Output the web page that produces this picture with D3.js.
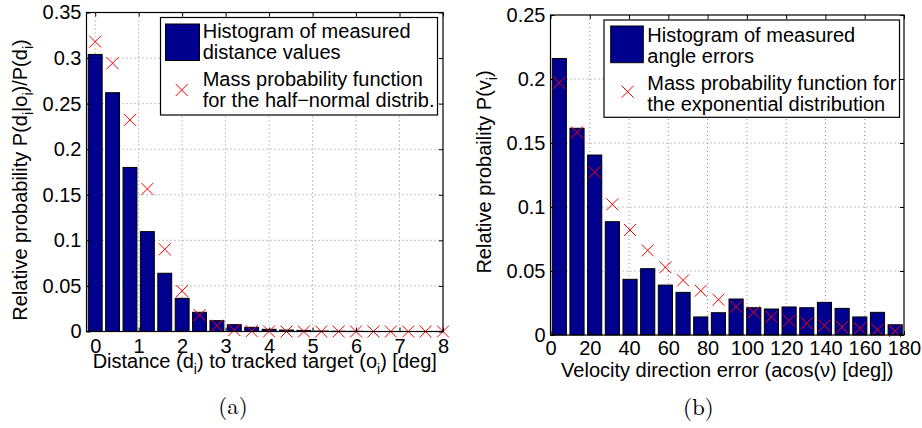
<!DOCTYPE html>
<html>
<head>
<meta charset="utf-8">
<script src="https://cdn.jsdelivr.net/npm/d3@7"></script>
<style>
  html, body { margin: 0; padding: 0; background: #fff; }
  svg { display: block; }
</style>
</head>
<body>
<svg id="fig" width="922" height="428"></svg>
<script>
// ---- (a) distance to tracked target: histogram + half-normal pmf ----
const distCenters = [0, 0.4, 0.8, 1.2, 1.6, 2.0, 2.4, 2.8, 3.2, 3.6, 4.0, 4.4, 4.8, 5.2, 5.6, 6.0, 6.4, 6.8, 7.2, 7.6, 8.0];
const distHist    = [0.304, 0.262, 0.180, 0.1096, 0.0639, 0.0364, 0.0211, 0.0119, 0.0075, 0.0046, 0.0024, 0.0016, 0.0012, 0.0005, 0.0003, 0.0002, 0, 0, 0, 0, 0];
const halfNormPmf = [0.318, 0.2944, 0.2322, 0.1564, 0.0902, 0.0445, 0.0181, 0.0064, 0.0016, 0.0004, 0.0001, 0, 0, 0, 0, 0, 0, 0, 0, 0, 0];
const distXTicks  = [0, 1, 2, 3, 4, 5, 6, 7, 8];
const distYTicks  = [0, 0.05, 0.1, 0.15, 0.2, 0.25, 0.3, 0.35];

// ---- (b) velocity direction error: histogram + exponential pmf ----
const angleCenters = [4.5, 13.5, 22.5, 31.5, 40.5, 49.5, 58.5, 67.5, 76.5, 85.5, 94.5, 103.5, 112.5, 121.5, 130.5, 139.5, 148.5, 157.5, 166.5, 175.5];
const angleHist    = [0.216, 0.1615, 0.1406, 0.0885, 0.0435, 0.0518, 0.039, 0.0333, 0.0141, 0.0174, 0.0281, 0.0213, 0.0203, 0.0219, 0.0213, 0.0255, 0.0208, 0.0141, 0.0177, 0.008];
const expPmf       = [0.197, 0.1583, 0.1271, 0.1021, 0.082, 0.0661, 0.0529, 0.0427, 0.0346, 0.0276, 0.0221, 0.0177, 0.0141, 0.0112, 0.0091, 0.0073, 0.0062, 0.0052, 0.0041, 0.003];
const angleXTicks  = [0, 20, 40, 60, 80, 100, 120, 140, 160, 180];
const angleYTicks  = [0, 0.05, 0.1, 0.15, 0.2, 0.25];

const FONT = "'Liberation Sans', Arial, Helvetica, sans-serif";
const BAR_FILL = "#00008f";
const svg = d3.select("#fig");
svg.append("rect").attr("width", 922).attr("height", 428).attr("fill", "#fff");

// text with TeX-like subscripts: parts = [[string, isSub], ...]
function richText(sel, parts) {
  let prevSub = false;
  parts.forEach(([s, sub]) => {
    const t = sel.append("tspan").text(s);
    if (sub) { t.attr("font-size", 14).attr("dy", prevSub ? 0 : 6); }
    else if (prevSub) { t.attr("dy", -6); }
    prevSub = !!sub;
  });
}

function crossPath(cx, cy, r) {
  return `M${cx - r},${cy - r}L${cx + r},${cy + r}M${cx - r},${cy + r}L${cx + r},${cy - r}`;
}

function panel(cfg) {
  const p = cfg.plot;
  const x = d3.scaleLinear().domain(cfg.xDomain).range([p.left, p.right]);
  const y = d3.scaleLinear().domain(cfg.yDomain).range([p.bottom, p.top]);
  const g = svg.append("g");

  // dotted grid
  const grid = g.append("g").attr("stroke", "#8a8a8a").attr("stroke-width", 1)
    .attr("stroke-dasharray", "1,3").attr("fill", "none");
  cfg.xTicks.forEach(v => {
    const xv = x(v);
    if (xv > p.left + 1 && xv < p.right - 1)
      grid.append("line").attr("x1", xv).attr("x2", xv).attr("y1", p.top).attr("y2", p.bottom);
  });
  cfg.yTicks.forEach(v => {
    const yv = y(v);
    if (yv > p.top + 1 && yv < p.bottom - 1)
      grid.append("line").attr("x1", p.left).attr("x2", p.right).attr("y1", yv).attr("y2", yv);
  });

  // histogram bars (80% of bin width)
  const bw = x(cfg.binWidth * 0.8) - x(0);
  g.append("g").selectAll("rect").data(cfg.centers.map((c, i) => [c, cfg.hist[i]]))
    .join("rect")
    .attr("x", d => x(d[0]) - bw / 2)
    .attr("width", bw)
    .attr("y", d => y(d[1]))
    .attr("height", d => y(0) - y(d[1]))
    .attr("fill", BAR_FILL)
    .attr("stroke", "#000")
    .attr("stroke-width", 1);

  // pmf markers
  g.append("g").selectAll("path").data(cfg.centers.map((c, i) => [c, cfg.pmf[i]]))
    .join("path")
    .attr("d", d => crossPath(x(d[0]), y(d[1]), 6))
    .attr("stroke", "#ff0000").attr("stroke-width", 1).attr("fill", "none");

  // axes: labelled bottom/left, inward ticks on all four sides
  const fmt = d3.format("~g");
  const axB = g.append("g").attr("transform", `translate(0,${p.bottom})`)
    .call(d3.axisBottom(x).tickValues(cfg.xTicks).tickFormat(fmt).tickSize(-4).tickPadding(cfg.xPad));
  const axL = g.append("g").attr("transform", `translate(${p.left},0)`)
    .call(d3.axisLeft(y).tickValues(cfg.yTicks).tickFormat(fmt).tickSize(-4).tickPadding(5));
  const axT = g.append("g").attr("transform", `translate(0,${p.top})`)
    .call(d3.axisTop(x).tickValues(cfg.xTicks).tickFormat("").tickSize(-4));
  const axR = g.append("g").attr("transform", `translate(${p.right},0)`)
    .call(d3.axisRight(y).tickValues(cfg.yTicks).tickFormat("").tickSize(-4));
  [axB, axL, axT, axR].forEach(a => {
    a.select(".domain").remove();
    a.selectAll("line").attr("stroke", "#000").attr("stroke-width", 1);
    a.selectAll("text").attr("font-family", FONT).attr("font-size", 20).attr("fill", "#000");
  });
  g.append("rect").attr("x", p.left).attr("y", p.top)
    .attr("width", p.right - p.left).attr("height", p.bottom - p.top)
    .attr("fill", "none").attr("stroke", "#000").attr("stroke-width", 1.2);

  // axis titles
  const xt = g.append("text").attr("x", (p.left + p.right) / 2).attr("y", cfg.xLabelY)
    .attr("text-anchor", "middle").attr("font-family", FONT).attr("font-size", 20);
  richText(xt, cfg.xLabel);
  const yt = g.append("text")
    .attr("transform", `translate(${cfg.yLabelX},${cfg.yLabelCY}) rotate(-90)`)
    .attr("text-anchor", "middle").attr("font-family", FONT).attr("font-size", 20);
  richText(yt, cfg.yLabel);

  // legend
  const L = cfg.legend;
  const lg = g.append("g");
  lg.append("rect").attr("x", L.x).attr("y", L.y).attr("width", L.w).attr("height", L.h)
    .attr("fill", "#fff").attr("stroke", "#000").attr("stroke-width", 1.2);
  lg.append("rect").attr("x", L.patch[0]).attr("y", L.patch[1])
    .attr("width", L.patch[2]).attr("height", L.patch[3])
    .attr("fill", BAR_FILL).attr("stroke", "#000").attr("stroke-width", 1);
  lg.append("path").attr("d", crossPath(L.cross[0], L.cross[1], 6))
    .attr("stroke", "#ff0000").attr("stroke-width", 1).attr("fill", "none");
  L.lines.forEach((s, i) => {
    lg.append("text").attr("x", L.textX).attr("y", L.baselines[i])
      .attr("font-family", FONT).attr("font-size", 20).attr("fill", "#000").text(s);
  });

  // panel caption
  svg.append("text").attr("x", cfg.caption[1]).attr("y", cfg.caption[2])
    .attr("text-anchor", "middle")
    .attr("font-family", "'Latin Modern Roman', 'CMU Serif', 'Liberation Serif', 'DejaVu Serif', serif")
    .attr("font-size", 23).text(cfg.caption[0]);
}

panel({
  plot: { left: 86.5, right: 443, top: 12.5, bottom: 331.5 },
  xDomain: [-0.2, 8], yDomain: [0, 0.35],
  xTicks: distXTicks, yTicks: distYTicks, xPad: 7,
  centers: distCenters, hist: distHist, pmf: halfNormPmf, binWidth: 0.4,
  xLabel: [["Distance (d", 0], ["i", 1], [") to tracked target (o", 0], ["i", 1], [") [deg]", 0]],
  xLabelY: 368,
  yLabel: [["Relative probability P(d", 0], ["i", 1], ["|o", 0], ["i", 1], [")/P(d", 0], ["i", 1], [")", 0]],
  yLabelX: 27, yLabelCY: 180,
  legend: {
    x: 160.5, y: 17.5, w: 277, h: 97.5,
    patch: [165.5, 24, 34, 36.5], cross: [181.7, 90], textX: 202.7,
    baselines: [38.3, 59.3, 86, 107.3],
    lines: ["Histogram of measured", "distance values", "Mass probability function", "for the half\u2212normal distrib."]
  },
  caption: ["(a)", 233, 414]
});

panel({
  plot: { left: 550.5, right: 904, top: 15, bottom: 335 },
  xDomain: [0, 180], yDomain: [0, 0.25],
  xTicks: angleXTicks, yTicks: angleYTicks, xPad: 5.5,
  centers: angleCenters, hist: angleHist, pmf: expPmf, binWidth: 9,
  xLabel: [["Velocity direction error (acos(\u03bd) [deg])", 0]],
  xLabelY: 377,
  yLabel: [["Relative probaility P(v", 0], ["i", 1], [")", 0]],
  yLabelX: 491, yLabelCY: 172,
  legend: {
    x: 604, y: 20, w: 295.5, h: 97.3,
    patch: [610.7, 26, 32.6, 36.7], cross: [627.7, 91.7], textX: 647.3,
    baselines: [42.3, 63.3, 90, 110.7],
    lines: ["Histogram of measured", "angle errors", "Mass probability function for", "the exponential distribution"]
  },
  caption: ["(b)", 698.3, 414.5]
});
</script>
</body>
</html>
